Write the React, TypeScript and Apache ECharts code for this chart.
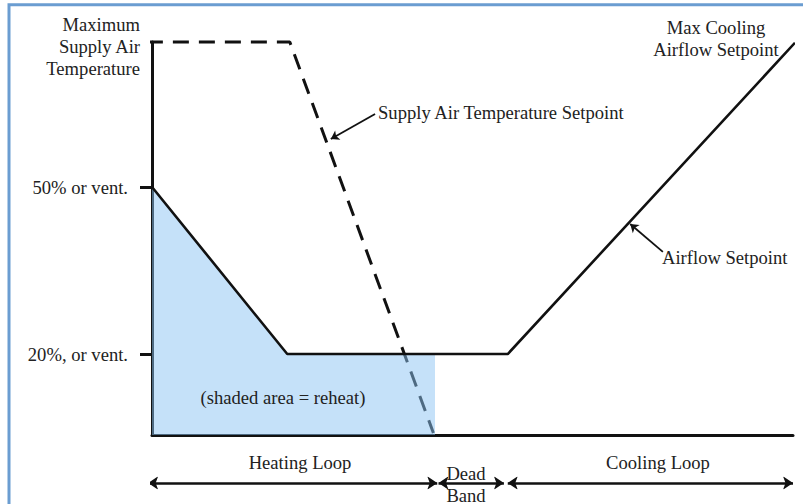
import React, { useEffect, useRef } from "react";
import * as echarts from "echarts";

// ---- data (x: loop signal 0..100, y: % of output 0..100) ----
const yTickValues = [20.6, 63.1];
const yTickLabels = ["20%, or vent.", "50% or vent."];

const airflowX = [0, 21.1, 55.5, 100.3];
const airflowY = [63.1, 20.6, 20.6, 99.8];

const satX = [-0.8, 21.5, 43.9];
const satY = [100, 100, 0.5];

const reheatX = [0, 21.1, 44.15];
const reheatY = [63.1, 20.6, 20.6];

const loopNames = ["Heating Loop", "Dead Band", "Cooling Loop"];
const loopStart = [-0.6, 44.7, 55.5];
const loopEnd = [44.5, 54.9, 100];

// annotation pointer arrows [fromX, fromY, toX, toY]
const satPointer = [34.8, 81.7, 27.9, 75.3];
const airflowPointer = [79.7, 46.6, 74.6, 53.7];

const FONT = "'Liberation Serif', 'Times New Roman', serif";
const FS = 18.6;
const TXT = "#222";

const zip = (xs: number[], ys: number[]) => xs.map((x, i) => [x, ys[i]]);

export default function App() {
  const ref = useRef<HTMLDivElement>(null);
  useEffect(() => {
    if (!ref.current) return;
    const chart = echarts.init(ref.current, undefined, { renderer: "svg" });
    const textStyle = (extra: any) => ({
      fontFamily: FONT,
      fontSize: FS,
      fill: TXT,
      ...extra,
    });
    const txt = (x: number, y: number, style: any) => ({
      type: "text",
      x,
      y,
      z: 100,
      silent: true,
      style: textStyle(style),
    });
    chart.setOption({
      animation: false,
      backgroundColor: "#fff",
      grid: [
        { left: 152, right: 10, top: 42, bottom: 69 },
        { left: 152, right: 10, top: 478, height: 10 },
      ],
      xAxis: [
        {
          type: "value",
          gridIndex: 0,
          min: 0,
          max: 100,
          axisLine: { show: true, lineStyle: { color: "#111", width: 3 } },
          axisTick: { show: false },
          axisLabel: { show: false },
          splitLine: { show: false },
        },
        {
          type: "value",
          gridIndex: 1,
          min: 0,
          max: 100,
          show: false,
        },
      ],
      yAxis: [
        {
          type: "value",
          gridIndex: 0,
          min: 0,
          max: 100,
          axisLine: { show: true, lineStyle: { color: "#111", width: 3 } },
          axisTick: {
            show: true,
            customValues: yTickValues,
            length: 12,
            lineStyle: { color: "#111", width: 3 },
          },
          axisLabel: {
            show: true,
            customValues: yTickValues,
            formatter: (v: number) => {
              const i = yTickValues.indexOf(v);
              return i >= 0 ? yTickLabels[i] : "";
            },
            margin: 24,
            fontFamily: FONT,
            fontSize: FS,
            color: TXT,
          },
          splitLine: { show: false },
        },
        {
          type: "value",
          gridIndex: 1,
          min: 0,
          max: 1,
          show: false,
        },
      ],
      series: [
        {
          name: "Supply Air Temperature Setpoint",
          type: "line",
          data: zip(satX, satY),
          symbol: "none",
          clip: false,
          z: 2,
          silent: true,
          lineStyle: { color: "#111", width: 3, type: [16, 10] },
        },
        {
          name: "Reheat",
          type: "line",
          data: zip(reheatX, reheatY),
          symbol: "none",
          z: 3,
          silent: true,
          lineStyle: { width: 0 },
          areaStyle: { color: "#8bc3f3", opacity: 0.5 },
        },
        {
          name: "Airflow Setpoint",
          type: "line",
          data: zip(airflowX, airflowY),
          symbol: "none",
          clip: false,
          z: 4,
          silent: true,
          lineStyle: { color: "#111", width: 2.6 },
        },
        {
          type: "lines",
          coordinateSystem: "cartesian2d",
          xAxisIndex: 0,
          yAxisIndex: 0,
          z: 5,
          silent: true,
          symbol: ["none", "arrow"],
          symbolSize: 8,
          lineStyle: { color: "#111", width: 1.8, opacity: 1 },
          data: [satPointer, airflowPointer].map((p) => ({
            coords: [
              [p[0], p[1]],
              [p[2], p[3]],
            ],
          })),
        },
        {
          type: "lines",
          coordinateSystem: "cartesian2d",
          xAxisIndex: 1,
          yAxisIndex: 1,
          z: 5,
          silent: true,
          symbol: ["arrow", "arrow"],
          symbolSize: 10,
          lineStyle: { color: "#111", width: 2.5, opacity: 1 },
          data: loopNames.map((n, i) => ({
            name: n,
            coords: [
              [loopStart[i], 0.5],
              [loopEnd[i], 0.5],
            ],
          })),
        },
      ],
      graphic: [
        {
          type: "rect",
          z: 100,
          shape: { x: 9, y: 4.8, width: 1000, height: 700 },
          style: { fill: "none", stroke: "#6b9dd1", lineWidth: 3 },
          silent: true,
        },
        txt(140, 46, {
          text: "Maximum\nSupply Air\nTemperature",
          align: "right",
          verticalAlign: "middle",
          lineHeight: 22,
        }),
        txt(378, 112, {
          text: "Supply Air Temperature Setpoint",
          align: "left",
          verticalAlign: "middle",
        }),
        txt(716, 38, {
          text: "Max Cooling\nAirflow Setpoint",
          align: "center",
          verticalAlign: "middle",
          lineHeight: 22,
        }),
        txt(662, 257, {
          text: "Airflow Setpoint",
          align: "left",
          verticalAlign: "middle",
        }),
        txt(283, 397, {
          text: "(shaded area = reheat)",
          align: "center",
          verticalAlign: "middle",
        }),
        txt(300, 462, {
          text: loopNames[0],
          align: "center",
          verticalAlign: "middle",
        }),
        txt(466, 484, {
          text: "Dead\nBand",
          align: "center",
          verticalAlign: "middle",
          lineHeight: 22,
        }),
        txt(658, 462, {
          text: loopNames[2],
          align: "center",
          verticalAlign: "middle",
        }),
      ],
    });
    return () => chart.dispose();
  }, []);
  return (
    <div
      ref={ref}
      style={{ position: "fixed", left: 0, top: 0, width: 803, height: 504 }}
    />
  );
}
